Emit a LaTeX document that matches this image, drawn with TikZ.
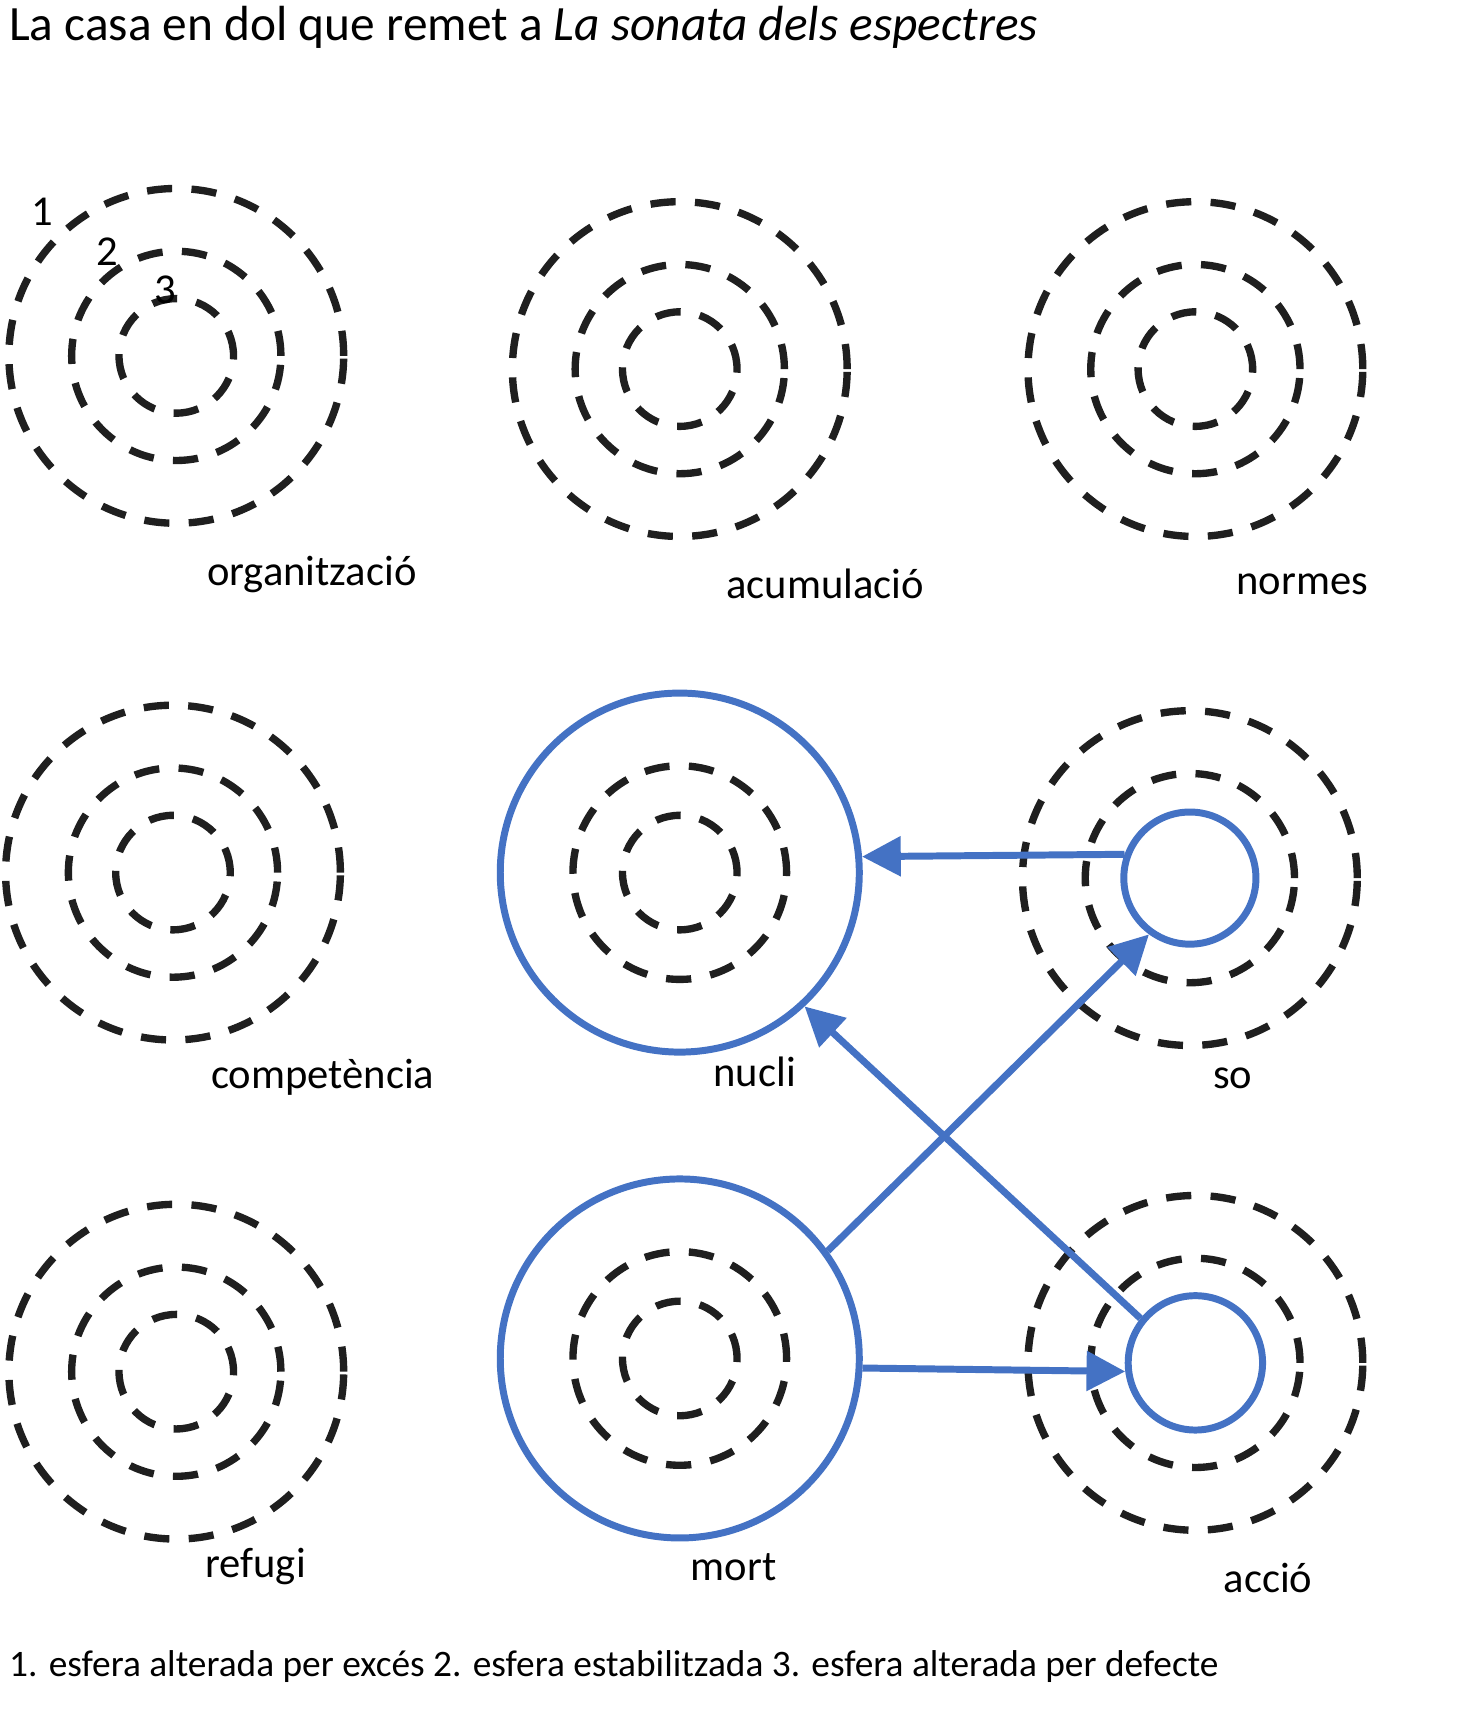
\documentclass[tikz,border=0pt]{standalone}
\usepackage{fontspec}
\setmainfont{Carlito}
\usetikzlibrary{arrows.meta}
\begin{document}
\begin{tikzpicture}[x=0.02cm,y=-0.02cm,
  ds/.style={draw=black!88,line width=3.8pt,dash pattern=on 13pt off 10pt,circle,inner sep=0pt,minimum size=#1*0.04cm},
  ar/.style={draw=bluec,line width=3.6pt,-{Triangle[length=20pt,width=20pt]}},
  lab/.style={font=\fontsize{22}{24}\selectfont,inner sep=0pt}]
\definecolor{bluec}{RGB}{68,114,196}
\tikzset{bs/.style={draw=bluec,line width=3.6pt,circle,inner sep=0pt,minimum size=#1*0.04cm}}
\useasboundingbox (0,0) rectangle (1330,1553);
\fill[white] (0,0) rectangle (1330,1553);
\node[lab,anchor=west,font=\fontsize{25.5}{28}\selectfont] (title) at (8,25) {La casa en dol que remet a \textit{La sonata dels espectres}};
\node[lab,anchor=west,font=\fontsize{19.3}{22}\selectfont] (foot) at (8,1513) {1. esfera alterada per excés 2. esfera estabilitzada 3. esfera alterada per defecte};
\foreach \n/\x/\y in {a/160/323,b/617/335,c/1085/335,d/157/792,g/160/1245}{
  \node[ds=152] (\n1) at (\x,\y) {};
  \node[ds=95] (\n2) at (\x,\y) {};
  \node[ds=52] (\n3) at (\x,\y) {};
}
\node[bs=163] (nucli) at (617,792) {};
\node[ds=97] (n2) at (617,792) {};
\node[ds=52] (n3) at (617,792) {};
\node[bs=163] (mort) at (617,1233) {};
\node[ds=97] (m2) at (617,1233) {};
\node[ds=52] (m3) at (617,1233) {};
\node[ds=152] (s1) at (1080,797) {};
\node[ds=95] (s2) at (1080,797) {};
\node[bs=60] (so) at (1080,797) {};
\node[ds=152] (c1) at (1085,1237) {};
\node[ds=95] (c2) at (1085,1237) {};
\node[bs=61] (accio) at (1085,1237) {};
\node[lab] (l1) at (283,521) {organització};
\node[lab] (l2) at (749,530) {acumulació};
\node[lab] (l3) at (1182,530) {normes};
\node[lab] (l4) at (293,978) {competència};
\node[lab] (l5) at (685,973) {nucli};
\node[lab] (l6) at (1119,979) {so};
\node[lab] (l7) at (232,1422) {refugi};
\node[lab] (l8) at (666,1422) {mort};
\node[lab] (l9) at (1151,1432) {acció};
\node[lab] (k1) at (38,192) {1};
\node[lab] (k2) at (97,228) {2};
\node[lab] (k3) at (150,263) {3};
\draw[ar] (so.160.5) -- (nucli.5.3);
\draw[ar] (mort.36) -- (so.234);
\draw[ar] (accio.141) -- (nucli.-47);
\draw[ar] (mort.-3) -- (accio.187);
\end{tikzpicture}
\end{document}
